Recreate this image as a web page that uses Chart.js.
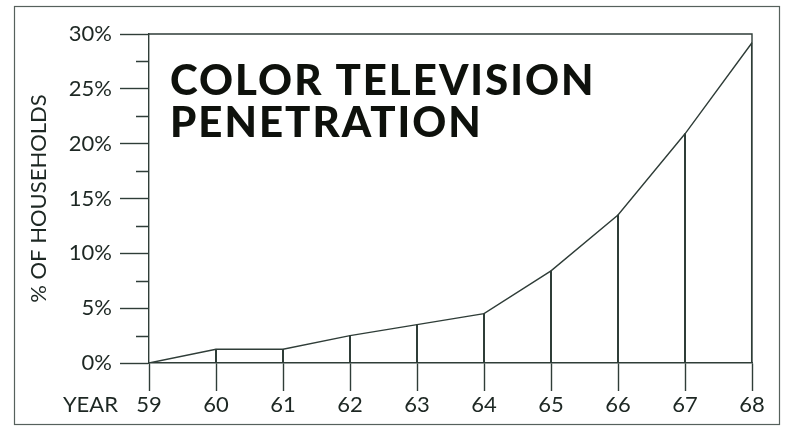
<!DOCTYPE html>
<html>
<head>
<meta charset="utf-8">
<title>Color Television Penetration</title>
<script src="https://cdn.jsdelivr.net/npm/chart.js@4/dist/chart.umd.min.js"></script>
<style>
  html, body { margin: 0; padding: 0; background: #ffffff; }
  #wrap { width: 788px; height: 426px; }
</style>
</head>
<body>
<div id="wrap"><canvas id="chart" width="788" height="426"></canvas></div>
<script>
// Share of households owning a colour TV, 1959–1968
const years = ['59', '60', '61', '62', '63', '64', '65', '66', '67', '68'];
const penetration = [0, 1.25, 1.25, 2.5, 3.5, 4.5, 8.4, 13.5, 20.9, 29.2];
const majorTicks = [0, 5, 10, 15, 20, 25, 30];
const minorTicks = [2.5, 7.5, 12.5, 17.5, 22.5, 27.5];
const headingLines = ['COLOR TELEVISION', 'PENETRATION'];
const yAxisTitle = '% OF HOUSEHOLDS';
const xAxisCaption = 'YEAR';

const INK = '#2f3d38';
const TEXT = '#1d2723';
const LABEL_FONT = { family: 'Lato, "DejaVu Sans", sans-serif', size: 22, weight: '400' };

const decor = {
  id: 'decor',
  beforeDraw(chart) {
    const { ctx, width, height } = chart;
    ctx.save();
    ctx.fillStyle = '#ffffff';
    ctx.fillRect(0, 0, width, height);
    ctx.restore();
  },
  afterDraw(chart) {
    const { ctx, chartArea: a, scales } = chart;
    const x = scales.x, y = scales.y;
    ctx.save();
    ctx.strokeStyle = INK;
    ctx.lineWidth = 1.4;

    // top and right edges of the plot box
    ctx.beginPath();
    ctx.moveTo(a.left, y.getPixelForValue(30));
    ctx.lineTo(a.right, y.getPixelForValue(30));
    ctx.lineTo(a.right, y.getPixelForValue(0));
    ctx.stroke();

    // short minor ticks between the labelled ones
    ctx.beginPath();
    minorTicks.forEach(v => {
      const py = Math.round(y.getPixelForValue(v)) + 0.5;
      ctx.moveTo(a.left - 13, py);
      ctx.lineTo(a.left, py);
    });
    ctx.stroke();

    // caption in front of the year labels
    ctx.fillStyle = TEXT;
    ctx.font = `${LABEL_FONT.weight} ${LABEL_FONT.size}px ${LABEL_FONT.family}`;
    ctx.textAlign = 'right';
    ctx.textBaseline = 'middle';
    const labelY = x.top + 28 + 1 + LABEL_FONT.size * 1.2 / 2;
    ctx.fillText(xAxisCaption, a.left - 31, labelY);

    // heading inside the plot
    ctx.fillStyle = '#0e110c';
    ctx.font = '900 42px Lato, "DejaVu Sans", sans-serif';
    if ('letterSpacing' in ctx) ctx.letterSpacing = '2px';
    ctx.textAlign = 'left';
    ctx.textBaseline = 'alphabetic';
    headingLines.forEach((line, i) => {
      ctx.fillText(line, a.left + 21, a.top + 61 + i * 42);
    });
    if ('letterSpacing' in ctx) ctx.letterSpacing = '0px';

    // outer frame
    ctx.strokeStyle = '#56615c';
    ctx.lineWidth = 1.2;
    ctx.strokeRect(14.5, 6.5, 765, 418);
    ctx.restore();
  }
};

new Chart(document.getElementById('chart'), {
  type: 'line',
  data: {
    labels: years,
    datasets: [
      {
        type: 'line',
        data: penetration,
        borderColor: INK,
        borderWidth: 1.4,
        pointRadius: 0,
        tension: 0,
        fill: false,
        order: 1
      },
      {
        type: 'bar',
        data: penetration,
        backgroundColor: INK,
        borderWidth: 0,
        barThickness: 1.4,
        order: 2
      }
    ]
  },
  options: {
    responsive: false,
    animation: false,
    events: [],
    layout: { padding: { left: 0, right: 36, top: 34, bottom: 0 } },
    plugins: {
      legend: { display: false },
      tooltip: { enabled: false },
      title: { display: false }
    },
    scales: {
      x: {
        type: 'category',
        offset: false,
        grid: {
          offset: false,
          drawOnChartArea: false,
          drawTicks: true,
          tickLength: 28,
          tickWidth: 1.4,
          tickColor: INK
        },
        border: { display: true, color: INK, width: 1.4 },
        ticks: {
          color: TEXT,
          font: LABEL_FONT,
          padding: 1,
          maxRotation: 0,
          autoSkip: false
        },
        afterFit(scale) { scale.height = 63; }
      },
      y: {
        min: 0,
        max: 30,
        afterBuildTicks(scale) {
          scale.ticks = majorTicks.map(v => ({ value: v }));
        },
        grid: {
          drawOnChartArea: false,
          drawTicks: true,
          tickLength: 29,
          tickWidth: 1.4,
          tickColor: INK
        },
        border: { display: true, color: INK, width: 1.4 },
        ticks: {
          color: TEXT,
          font: LABEL_FONT,
          padding: 8,
          callback: v => v + '%'
        },
        title: {
          display: true,
          text: yAxisTitle,
          color: TEXT,
          font: LABEL_FONT,
          padding: { top: 26, bottom: 0 }
        },
        afterFit(scale) { scale.width = 149; }
      }
    }
  },
  plugins: [decor]
});
</script>
</body>
</html>
